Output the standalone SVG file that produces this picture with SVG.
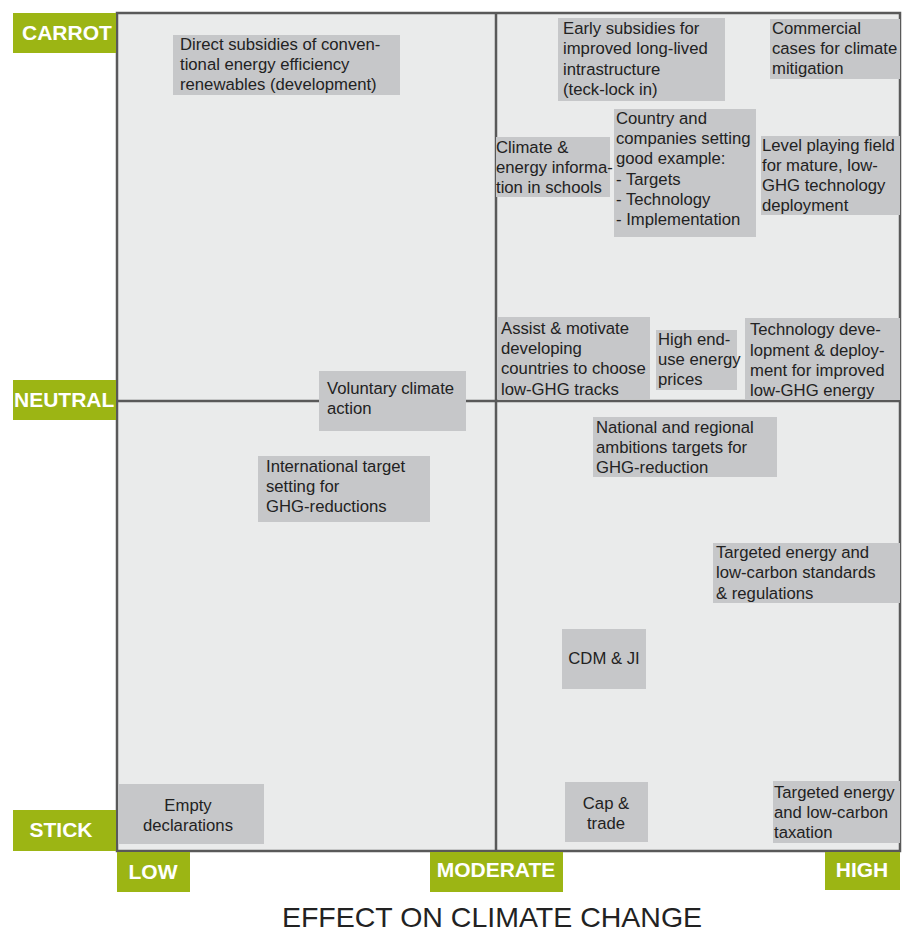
<svg xmlns="http://www.w3.org/2000/svg" width="906" height="934" viewBox="0 0 906 934">
<style>
.bg{fill:#eaebeb;stroke:#595959;stroke-width:2.5}
.ax{stroke:#595959;stroke-width:2.5;fill:none}
.box{fill:#c6c7c9}
.t{font-family:"Liberation Sans",Arial,sans-serif;font-size:16.7px;fill:#222}
.c{text-anchor:middle}
.g{fill:#9cb514}
.gl{font-family:"Liberation Sans",Arial,sans-serif;font-size:21px;font-weight:bold;fill:#fff}
.xt{font-family:"Liberation Sans",Arial,sans-serif;font-size:28.5px;fill:#222;text-anchor:middle}
</style>
<rect width="906" height="934" fill="#fff"/>
<g id="grid">
<rect class="bg" x="117" y="13" width="783" height="838"/>
</g>
<g id="connectors">
<line class="ax" x1="496" y1="13" x2="496" y2="851"/>
<line class="ax" x1="117" y1="401" x2="900" y2="401"/>
</g>
<g id="axis-labels">
<rect class="g" x="13" y="13" width="103" height="40"/><text class="gl" x="22" y="40">CARROT</text>
<rect class="g" x="13" y="380" width="103" height="40"/><text class="gl" x="14" y="407">NEUTRAL</text>
<rect class="g" x="13" y="810" width="103" height="41"/><text class="gl c" x="61" y="837">STICK</text>
<rect class="g" x="117" y="852" width="73" height="40"/><text class="gl c" x="153" y="879">LOW</text>
<rect class="g" x="430" y="852" width="133" height="40"/><text class="gl c" x="496" y="877">MODERATE</text>
<rect class="g" x="825" y="852" width="75" height="38"/><text class="gl c" x="862" y="877">HIGH</text>
<text class="xt" x="492" y="927">EFFECT ON CLIMATE CHANGE</text>
</g>
<g id="n1"><rect class="box" x="173" y="35" width="227" height="60"/><text class="t" x="180"><tspan x="180" y="50">Direct subsidies of conven-</tspan><tspan x="180" y="70">tional energy efficiency</tspan><tspan x="180" y="90">renewables (development)</tspan></text></g>
<g id="n2"><rect class="box" x="558" y="18" width="167" height="83"/><text class="t"><tspan x="563" y="34">Early subsidies for</tspan><tspan x="563" y="54">improved long-lived</tspan><tspan x="563" y="75">intrastructure</tspan><tspan x="563" y="95">(teck-lock in)</tspan></text></g>
<g id="n3"><rect class="box" x="770" y="19" width="130" height="60"/><text class="t"><tspan x="772" y="34">Commercial</tspan><tspan x="772" y="54">cases for climate</tspan><tspan x="772" y="74">mitigation</tspan></text></g>
<g id="n4"><rect class="box" x="614" y="109" width="142" height="128"/><text class="t"><tspan x="616" y="124">Country and</tspan><tspan x="616" y="144">companies setting</tspan><tspan x="616" y="164">good example:</tspan><tspan x="616" y="185">- Targets</tspan><tspan x="616" y="205">- Technology</tspan><tspan x="616" y="225">- Implementation</tspan></text></g>
<g id="n5"><rect class="box" x="496" y="137" width="114" height="60"/><text class="t"><tspan x="496" y="153">Climate &amp;</tspan><tspan x="496" y="173">energy informa-</tspan><tspan x="496" y="193">tion in schools</tspan></text></g>
<g id="n6"><rect class="box" x="761" y="136" width="139" height="79"/><text class="t"><tspan x="762" y="151">Level playing field</tspan><tspan x="762" y="171">for mature, low-</tspan><tspan x="762" y="191">GHG technology</tspan><tspan x="762" y="211">deployment</tspan></text></g>
<g id="n7"><rect class="box" x="497" y="317" width="153" height="82"/><text class="t"><tspan x="501" y="334">Assist &amp; motivate</tspan><tspan x="501" y="354">developing</tspan><tspan x="501" y="374">countries to choose</tspan><tspan x="501" y="395">low-GHG tracks</tspan></text></g>
<g id="n8"><rect class="box" x="656" y="330" width="81" height="60"/><text class="t"><tspan x="658" y="345">High end-</tspan><tspan x="658" y="365">use energy</tspan><tspan x="658" y="385">prices</tspan></text></g>
<g id="n9"><rect class="box" x="745" y="318" width="155" height="82"/><text class="t"><tspan x="750" y="335">Technology deve-</tspan><tspan x="750" y="356">lopment &amp; deploy-</tspan><tspan x="750" y="376">ment for improved</tspan><tspan x="750" y="396">low-GHG energy</tspan></text></g>
<g id="n10"><rect class="box" x="593" y="417" width="184" height="60"/><text class="t"><tspan x="596" y="433">National and regional</tspan><tspan x="596" y="453">ambitions targets for</tspan><tspan x="596" y="473">GHG-reduction</tspan></text></g>
<g id="n11"><rect class="box" x="319" y="371" width="147" height="60"/><text class="t"><tspan x="327" y="394">Voluntary climate</tspan><tspan x="327" y="414">action</tspan></text></g>
<g id="n12"><rect class="box" x="258" y="456" width="172" height="66"/><text class="t"><tspan x="266" y="472">International target</tspan><tspan x="266" y="492">setting for</tspan><tspan x="266" y="512">GHG-reductions</tspan></text></g>
<g id="n13"><rect class="box" x="713" y="543" width="187" height="60"/><text class="t"><tspan x="716" y="558">Targeted energy and</tspan><tspan x="716" y="578">low-carbon standards</tspan><tspan x="716" y="599">&amp; regulations</tspan></text></g>
<g id="n14"><rect class="box" x="562" y="629" width="84" height="60"/><text class="t c" x="604" y="664">CDM &amp; JI</text></g>
<g id="n15"><rect class="box" x="118" y="784" width="146" height="60"/><text class="t c"><tspan x="188" y="811">Empty</tspan><tspan x="188" y="831">declarations</tspan></text></g>
<g id="n16"><rect class="box" x="565" y="782" width="83" height="60"/><text class="t c"><tspan x="606" y="809">Cap &amp;</tspan><tspan x="606" y="829">trade</tspan></text></g>
<g id="n17"><rect class="box" x="773" y="781" width="127" height="62"/><text class="t"><tspan x="774" y="798">Targeted energy</tspan><tspan x="774" y="818">and low-carbon</tspan><tspan x="774" y="838">taxation</tspan></text></g>
</svg>
